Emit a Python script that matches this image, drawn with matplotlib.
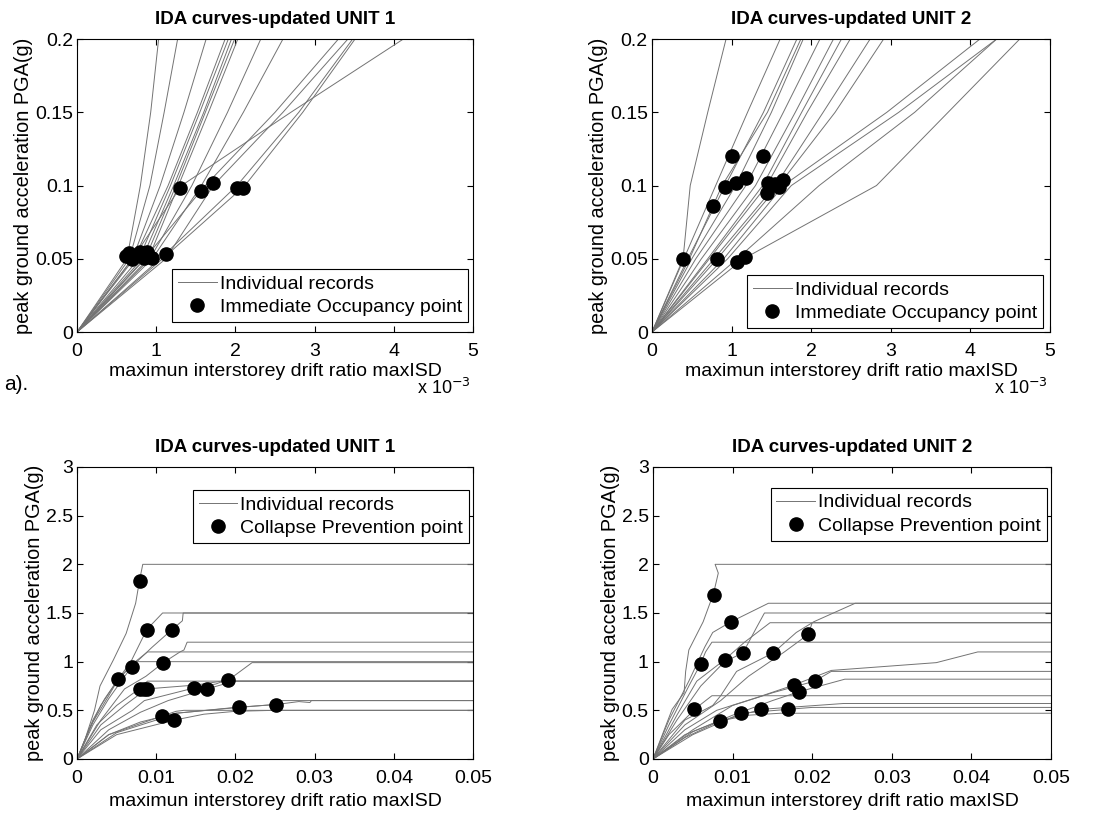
import matplotlib
matplotlib.use('Agg')
import matplotlib.pyplot as plt
from matplotlib.ticker import FuncFormatter

plt.rcParams['font.family'] = ['Liberation Sans', 'DejaVu Sans']

# ---------------- data ----------------
# top row: drift (x 1e-3) at each PGA level of the IDA, one row per record
io_pga = [0, 0.05, 0.1, 0.15, 0.2]

u1_io_records = [
    [0, 0.63, 0.80, 0.93, 1.03],
    [0, 0.66, 0.92, 1.10, 1.27],
    [0, 0.70, 1.05, 1.35, 1.63],
    [0, 0.72, 1.15, 1.52, 1.87],
    [0, 0.78, 1.18, 1.55, 1.91],
    [0, 0.82, 1.22, 1.60, 1.95],
    [0, 0.86, 1.25, 1.62, 1.99],
    [0, 0.90, 1.28, 1.66, 2.03],
    [0, 0.92, 1.45, 1.90, 2.32],
    [0, 0.95, 1.57, 2.10, 2.60],
    [0, 0.70, 1.32, 2.70, 4.12],
    [0, 1.12, 1.72, 2.60, 3.42],
    [0, 1.05, 2.02, 2.80, 3.48],
    [0, 1.08, 2.12, 2.85, 3.51],
    [0, 0.85, 1.62, 2.50, 3.30],
]
u1_io_x = [0.62, 0.66, 0.69, 0.74, 0.80, 0.85, 0.88, 0.95, 1.12, 1.30, 1.57, 1.72, 2.02, 2.10]
u1_io_y = [0.0517, 0.054, 0.050, 0.0517, 0.0546, 0.0505, 0.0544, 0.0505, 0.0533,
           0.098, 0.096, 0.102, 0.098, 0.098]

u2_io_records = [
    [0, 0.39, 0.48, 0.70, 0.93],
    [0, 0.40, 0.80, 1.20, 1.61],
    [0, 0.45, 0.92, 1.40, 1.82],
    [0, 0.47, 0.88, 1.45, 1.87],
    [0, 0.50, 1.05, 1.50, 1.90],
    [0, 0.55, 1.18, 1.65, 2.11],
    [0, 0.62, 1.30, 1.80, 2.28],
    [0, 0.70, 1.39, 1.88, 2.38],
    [0, 0.72, 1.44, 1.95, 2.49],
    [0, 0.78, 1.55, 2.15, 2.74],
    [0, 0.82, 1.59, 2.30, 2.91],
    [0, 0.90, 1.65, 2.95, 4.12],
    [0, 0.95, 1.75, 3.10, 4.33],
    [0, 1.07, 2.10, 3.30, 4.33],
    [0, 1.15, 2.82, 3.72, 4.62],
]
u2_io_x = [0.39, 0.82, 1.07, 1.17, 0.76, 0.92, 1.05, 1.00, 1.18, 1.39, 1.46, 1.44, 1.54, 1.59, 1.65]
u2_io_y = [0.050, 0.050, 0.048, 0.051, 0.086, 0.099, 0.102, 0.120, 0.105, 0.120,
           0.102, 0.095, 0.101, 0.099, 0.104]

# bottom row: (drift, PGA) pairs of each record up to collapse, then flatline
collapse_drift = 0.1

u1_cp_records = [
    ([0, 0.001, 0.0022, 0.0029, 0.0046, 0.0062, 0.0074, 0.0079, 0.0083],
     [0, 0.2, 0.5, 0.75, 1.02, 1.29, 1.6, 1.84, 2.0]),
    ([0, 0.0015, 0.003, 0.0052, 0.0068, 0.0088, 0.0108],
     [0, 0.3, 0.55, 0.82, 1.0, 1.33, 1.5]),
    ([0, 0.002, 0.004, 0.0069, 0.0095, 0.012, 0.0133, 0.0134],
     [0, 0.35, 0.62, 0.95, 1.15, 1.33, 1.42, 1.5]),
    ([0, 0.003, 0.006, 0.0087, 0.0109, 0.013, 0.0135, 0.0139],
     [0, 0.4, 0.72, 0.85, 0.99, 1.1, 1.12, 1.2]),
    ([0, 0.002, 0.004, 0.0052, 0.0069, 0.0089],
     [0, 0.38, 0.65, 0.82, 0.97, 1.1]),
    ([0, 0.002, 0.0035, 0.0052, 0.0074],
     [0, 0.4, 0.62, 0.82, 1.0]),
    ([0, 0.003, 0.006, 0.0088, 0.015, 0.0191, 0.0221],
     [0, 0.35, 0.55, 0.72, 0.76, 0.81, 0.99]),
    ([0, 0.0025, 0.005, 0.0075, 0.0089],
     [0, 0.35, 0.55, 0.7, 0.8]),
    ([0, 0.003, 0.007, 0.0085, 0.0148, 0.0175, 0.0185],
     [0, 0.3, 0.5, 0.6, 0.73, 0.77, 0.8]),
    ([0, 0.004, 0.008, 0.0115, 0.0164, 0.019, 0.0195],
     [0, 0.3, 0.48, 0.6, 0.72, 0.78, 0.8]),
    ([0, 0.004, 0.008, 0.0125, 0.02, 0.0252, 0.028, 0.0294, 0.0296],
     [0, 0.25, 0.38, 0.47, 0.53, 0.56, 0.59, 0.58, 0.6]),
    ([0, 0.005, 0.01, 0.0125, 0.0204, 0.025, 0.0255],
     [0, 0.27, 0.40, 0.47, 0.53, 0.56, 0.6]),
    ([0, 0.004, 0.0107, 0.0125, 0.0135],
     [0, 0.25, 0.44, 0.49, 0.5]),
    ([0, 0.005, 0.0123, 0.016, 0.02, 0.025],
     [0, 0.25, 0.40, 0.46, 0.49, 0.5]),
]
u1_cp_x = [0.0080, 0.0088, 0.0120, 0.0069, 0.0052, 0.0109, 0.0080, 0.0084, 0.0088,
           0.0148, 0.0164, 0.0191, 0.0107, 0.0123, 0.0204, 0.0251]
u1_cp_y = [1.83, 1.33, 1.33, 0.95, 0.82, 0.99, 0.72, 0.72, 0.72,
           0.73, 0.72, 0.81, 0.44, 0.40, 0.53, 0.55]

u2_cp_records = [
    ([0, 0.0024, 0.0039, 0.0041, 0.0045, 0.0063, 0.0076, 0.0082, 0.0078],
     [0, 0.51, 0.68, 0.9, 1.12, 1.41, 1.7, 1.91, 2.0]),
    ([0, 0.002, 0.0045, 0.006, 0.0066, 0.0074],
     [0, 0.35, 0.75, 0.98, 1.1, 1.2]),
    ([0, 0.002, 0.0045, 0.0065, 0.0075, 0.0098, 0.0145],
     [0, 0.4, 0.8, 1.15, 1.3, 1.41, 1.6]),
    ([0, 0.003, 0.006, 0.009, 0.0113, 0.013, 0.014],
     [0, 0.4, 0.75, 1.0, 1.09, 1.35, 1.5]),
    ([0, 0.003, 0.0055, 0.009, 0.0115, 0.0147],
     [0, 0.45, 0.8, 1.02, 1.2, 1.4]),
    ([0, 0.004, 0.0075, 0.0085, 0.0105, 0.0151, 0.018, 0.0202, 0.0254],
     [0, 0.4, 0.55, 0.65, 0.9, 1.09, 1.3, 1.41, 1.6]),
    ([0, 0.004, 0.0085, 0.012, 0.0165, 0.0195, 0.02],
     [0, 0.35, 0.6, 0.85, 1.1, 1.28, 1.4]),
    ([0, 0.004, 0.008, 0.013, 0.0177, 0.0224, 0.0356, 0.0408],
     [0, 0.3, 0.5, 0.63, 0.76, 0.91, 0.99, 1.1]),
    ([0, 0.005, 0.01, 0.015, 0.0203, 0.0224],
     [0, 0.3, 0.55, 0.68, 0.80, 0.9]),
    ([0, 0.005, 0.01, 0.015, 0.0183, 0.0241],
     [0, 0.28, 0.45, 0.6, 0.69, 0.82]),
    ([0, 0.002, 0.0045, 0.0052, 0.0074],
     [0, 0.25, 0.45, 0.51, 0.65]),
    ([0, 0.004, 0.008, 0.0136, 0.0239],
     [0, 0.25, 0.38, 0.51, 0.57]),
    ([0, 0.005, 0.0111, 0.0169, 0.02],
     [0, 0.25, 0.47, 0.51, 0.53]),
    ([0, 0.004, 0.0084, 0.012, 0.016],
     [0, 0.22, 0.39, 0.45, 0.47]),
]
u2_cp_x = [0.0076, 0.0098, 0.0060, 0.0090, 0.0113, 0.0151, 0.0195, 0.0052, 0.0084,
           0.0111, 0.0136, 0.0169, 0.0177, 0.0183, 0.0203]
u2_cp_y = [1.68, 1.41, 0.98, 1.02, 1.09, 1.09, 1.28, 0.51, 0.39,
           0.47, 0.51, 0.51, 0.76, 0.69, 0.80]

# ---------------- figure ----------------
fig = plt.figure(figsize=(11.07, 8.17), dpi=100)
axes_pos = [
    [0.0696, 0.5936, 0.3577, 0.3586],
    [0.589, 0.5936, 0.3595, 0.3586],
    [0.0696, 0.0710, 0.3577, 0.3574],
    [0.5899, 0.0710, 0.3595, 0.3574],
]
titles = ['IDA curves-updated UNIT 1', 'IDA curves-updated UNIT 2',
          'IDA curves-updated UNIT 1', 'IDA curves-updated UNIT 2']
line_col = '0.45'
fmt = FuncFormatter(lambda v, p: '%g' % round(v, 6))


def style_axes(ax, title):
    ax.set_title(title, fontsize=13.5, fontweight='bold', pad=11)
    ax.tick_params(direction='in', top=True, right=True, length=4,
                   labelsize=14, pad=3, width=0.8)
    ax.tick_params(axis='x', pad=8)
    ax.xaxis.set_major_formatter(fmt)
    ax.yaxis.set_major_formatter(fmt)
    for s in ax.spines.values():
        s.set_linewidth(0.8)
    ax.set_ylabel('peak ground acceleration PGA(g)', fontsize=14.3, labelpad=1)


leg_kw = dict(borderaxespad=0, fancybox=False, edgecolor='k', fontsize=14,
              handlelength=2.0, framealpha=1, borderpad=0.3, labelspacing=0.3,
              handletextpad=0.15)

# top row: Immediate Occupancy
top = [(u1_io_records, u1_io_x, u1_io_y, (0.987, 0.034)),
       (u2_io_records, u2_io_x, u2_io_y, (0.982, 0.014))]
for i, (recs, px, py, anchor) in enumerate(top):
    ax = fig.add_axes(axes_pos[i])
    for j, r in enumerate(recs):
        ln, = ax.plot(r, io_pga, color=line_col, lw=0.7)
        if j == 0:
            h_line = ln
    h_pt, = ax.plot(px, py, 'o', color='k', ms=9.5, ls='none')
    ax.set_xlim(0, 5)
    ax.set_ylim(0, 0.2)
    ax.set_xticks([0, 1, 2, 3, 4, 5])
    ax.set_yticks([0, 0.05, 0.1, 0.15, 0.2])
    style_axes(ax, titles[i])
    ax.set_xlabel('maximun interstorey drift ratio maxISD', fontsize=14, labelpad=2)
    ax.text(0.995, -0.19, r'x 10$^{-3}$', transform=ax.transAxes, ha='right',
            va='center', fontsize=13)
    leg = ax.legend([h_line, h_pt], ['Individual records', 'Immediate Occupancy point'],
                    loc='lower right', bbox_to_anchor=anchor, **leg_kw)
    leg.get_frame().set_linewidth(0.8)

# bottom row: Collapse Prevention
bottom = [(u1_cp_records, u1_cp_x, u1_cp_y, (0.99, 0.921)),
          (u2_cp_records, u2_cp_x, u2_cp_y, (0.99, 0.928))]
for i, (recs, px, py, anchor) in enumerate(bottom):
    ax = fig.add_axes(axes_pos[i + 2])
    for j, (dx, pga) in enumerate(recs):
        ln, = ax.plot(dx + [collapse_drift], pga + [pga[-1]], color=line_col, lw=0.7)
        if j == 0:
            h_line = ln
    h_pt, = ax.plot(px, py, 'o', color='k', ms=9.5, ls='none')
    ax.set_xlim(0, 0.05)
    ax.set_ylim(0, 3)
    ax.set_xticks([0, 0.01, 0.02, 0.03, 0.04, 0.05])
    ax.set_yticks([0, 0.5, 1, 1.5, 2, 2.5, 3])
    style_axes(ax, titles[i + 2])
    ax.set_xlabel('maximun interstorey drift ratio maxISD', fontsize=14, labelpad=4)
    leg = ax.legend([h_line, h_pt], ['Individual records', 'Collapse Prevention point'],
                    loc='upper right', bbox_to_anchor=anchor, **leg_kw)
    leg.get_frame().set_linewidth(0.8)

fig.text(0.004, 0.529, 'a).', fontsize=15, va='center', ha='left')

fig.savefig('out.png', dpi=100)
